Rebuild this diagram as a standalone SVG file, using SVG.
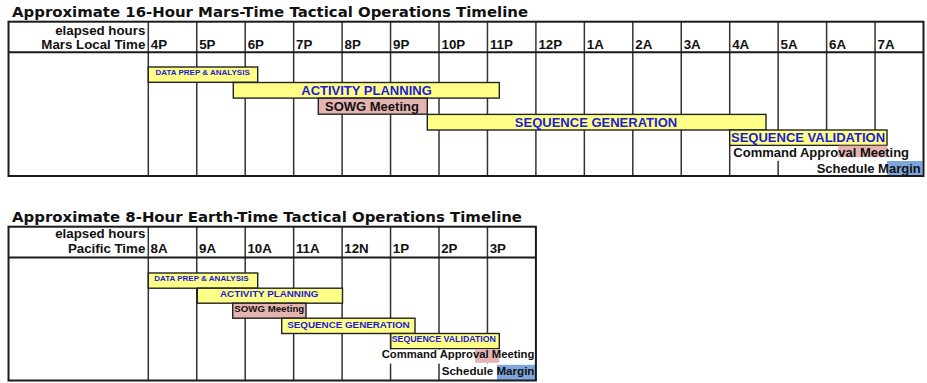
<svg xmlns="http://www.w3.org/2000/svg" width="927" height="383" viewBox="0 0 927 383">
<style>
.title{font-family:"DejaVu Sans",Verdana,sans-serif;font-weight:bold;font-size:14.5px;fill:#111}
.hdr{font-family:"Liberation Sans",Arial,sans-serif;font-weight:bold;font-size:13.3px;fill:#111}
.frame{fill:none;stroke:#1a1a1a;stroke-width:2}
.grid line{stroke:#333;stroke-width:1.5}
.bar{fill:#ffff88;stroke:#222;stroke-width:1.4}
.pink{fill:#e5b4b1;stroke:#222;stroke-width:1.4}
.pinkfill{fill:#e5b4b1}
.bluefill{fill:#7ea6dc}
.white{fill:#fff}
.bt{font-family:"Liberation Sans",Arial,sans-serif;font-weight:bold;fill:#1c1cd6}
.kt{font-family:"Liberation Sans",Arial,sans-serif;font-weight:bold;fill:#111}
</style>
<rect width="927" height="383" fill="#fff"/>

<!-- ===== TOP CHART ===== -->
<g id="mars-chart">
<text class="title" x="12" y="16.7" textLength="516" lengthAdjust="spacingAndGlyphs">Approximate 16-Hour Mars-Time Tactical Operations Timeline</text>
<g class="grid" id="mars-grid">
<line x1="148.3" y1="21.7" x2="148.3" y2="176"/>
<line x1="196.75" y1="21.7" x2="196.75" y2="176"/>
<line x1="245.2" y1="21.7" x2="245.2" y2="176"/>
<line x1="293.65" y1="21.7" x2="293.65" y2="176"/>
<line x1="342.1" y1="21.7" x2="342.1" y2="176"/>
<line x1="390.55" y1="21.7" x2="390.55" y2="176"/>
<line x1="439" y1="21.7" x2="439" y2="176"/>
<line x1="487.45" y1="21.7" x2="487.45" y2="176"/>
<line x1="535.9" y1="21.7" x2="535.9" y2="176"/>
<line x1="584.35" y1="21.7" x2="584.35" y2="176"/>
<line x1="632.8" y1="21.7" x2="632.8" y2="176"/>
<line x1="681.25" y1="21.7" x2="681.25" y2="176"/>
<line x1="729.7" y1="21.7" x2="729.7" y2="176"/>
<line x1="778.15" y1="21.7" x2="778.15" y2="176"/>
<line x1="826.6" y1="21.7" x2="826.6" y2="176"/>
<line x1="875.05" y1="21.7" x2="875.05" y2="176"/>
</g>
<g id="mars-header">
<text class="hdr" x="145.3" y="35" text-anchor="end">elapsed hours</text>
<text class="hdr" x="145.3" y="49.3" text-anchor="end">Mars Local Time</text>
<text class="hdr" x="150.8" y="49.3">4P</text>
<text class="hdr" x="199.2" y="49.3">5P</text>
<text class="hdr" x="247.7" y="49.3">6P</text>
<text class="hdr" x="296.1" y="49.3">7P</text>
<text class="hdr" x="344.6" y="49.3">8P</text>
<text class="hdr" x="393" y="49.3">9P</text>
<text class="hdr" x="441.5" y="49.3">10P</text>
<text class="hdr" x="489.9" y="49.3">11P</text>
<text class="hdr" x="538.4" y="49.3">12P</text>
<text class="hdr" x="586.8" y="49.3">1A</text>
<text class="hdr" x="635.3" y="49.3">2A</text>
<text class="hdr" x="683.7" y="49.3">3A</text>
<text class="hdr" x="732.2" y="49.3">4A</text>
<text class="hdr" x="780.6" y="49.3">5A</text>
<text class="hdr" x="829.1" y="49.3">6A</text>
<text class="hdr" x="877.5" y="49.3">7A</text>
</g>
<g id="mars-data-prep">
<rect class="bar" x="148.3" y="67" width="109.4" height="15.3"/>
<text class="bt" x="155.5" y="75" font-size="8">DATA PREP &amp; ANALYSIS</text>
</g>
<g id="mars-activity-planning">
<rect class="bar" x="233.3" y="82.5" width="266" height="15.6"/>
<text class="bt" x="366.5" y="94.5" font-size="13" text-anchor="middle">ACTIVITY PLANNING</text>
</g>
<g id="mars-sowg">
<rect class="pink" x="318.3" y="98.2" width="109" height="16"/>
<text class="kt" x="325" y="110.5" font-size="13">SOWG Meeting</text>
</g>
<g id="mars-seq-gen">
<rect class="bar" x="427.3" y="114.4" width="338.7" height="15.6"/>
<text class="bt" x="596" y="126.5" font-size="13" text-anchor="middle">SEQUENCE GENERATION</text>
</g>
<g id="mars-seq-val">
<rect class="bar" x="729.7" y="130" width="157.3" height="15.4"/>
<text class="bt" x="731" y="141.6" font-size="13">SEQUENCE VALIDATION</text>
</g>
<g id="mars-cam">
<rect class="white" x="732.5" y="146.2" width="180" height="14.6"/>
<rect class="pinkfill" x="838.3" y="145.7" width="48.7" height="11.5"/>
<text class="kt" x="733.3" y="156.5" font-size="13">Command Approval Meeting</text>
</g>
<g id="mars-margin">
<rect class="white" x="816" y="160.8" width="106.5" height="14.5"/>
<rect class="bluefill" x="887" y="161" width="35.5" height="14.2"/>
<text class="kt" x="816.7" y="173" font-size="13">Schedule Margin</text>
</g>
<line x1="8.5" y1="52.3" x2="923.5" y2="52.3" stroke="#1a1a1a" stroke-width="2"/>
<rect class="frame" x="8.5" y="21.7" width="915" height="154.3"/>
</g>

<!-- ===== BOTTOM CHART ===== -->
<g id="earth-chart">
<text class="title" x="12" y="222" textLength="510" lengthAdjust="spacingAndGlyphs">Approximate 8-Hour Earth-Time Tactical Operations Timeline</text>
<g class="grid" id="earth-grid">
<line x1="148.3" y1="226.7" x2="148.3" y2="380.5"/>
<line x1="196.75" y1="226.7" x2="196.75" y2="380.5"/>
<line x1="245.2" y1="226.7" x2="245.2" y2="380.5"/>
<line x1="293.65" y1="226.7" x2="293.65" y2="380.5"/>
<line x1="342.1" y1="226.7" x2="342.1" y2="380.5"/>
<line x1="390.55" y1="226.7" x2="390.55" y2="380.5"/>
<line x1="439" y1="226.7" x2="439" y2="380.5"/>
<line x1="487.45" y1="226.7" x2="487.45" y2="380.5"/>
</g>
<g id="earth-header">
<text class="hdr" x="145.3" y="238.3" text-anchor="end">elapsed hours</text>
<text class="hdr" x="145.3" y="253" text-anchor="end">Pacific Time</text>
<text class="hdr" x="150.5" y="253">8A</text>
<text class="hdr" x="199" y="253">9A</text>
<text class="hdr" x="247.4" y="253">10A</text>
<text class="hdr" x="295.9" y="253">11A</text>
<text class="hdr" x="344.3" y="253">12N</text>
<text class="hdr" x="392.8" y="253">1P</text>
<text class="hdr" x="441.2" y="253">2P</text>
<text class="hdr" x="489.7" y="253">3P</text>
</g>
<g id="earth-data-prep">
<rect class="bar" x="148.3" y="273" width="109.4" height="15.2"/>
<text class="bt" x="154.3" y="280.5" font-size="8">DATA PREP &amp; ANALYSIS</text>
</g>
<g id="earth-activity-planning">
<rect class="bar" x="197.3" y="288.2" width="145.2" height="15"/>
<text class="bt" x="269.2" y="297.3" font-size="9.8" text-anchor="middle">ACTIVITY PLANNING</text>
</g>
<g id="earth-sowg">
<rect class="pink" x="232.7" y="303.2" width="73.3" height="15"/>
<text class="kt" x="234.3" y="312.3" font-size="9.7">SOWG Meeting</text>
</g>
<g id="earth-seq-gen">
<rect class="bar" x="281.7" y="318.2" width="133.3" height="15.3"/>
<text class="bt" x="287.3" y="328" font-size="9.8">SEQUENCE GENERATION</text>
</g>
<g id="earth-seq-val">
<rect class="bar" x="390.8" y="333.5" width="108.5" height="15.2"/>
<text class="bt" x="391.7" y="341.6" font-size="8.8">SEQUENCE VALIDATION</text>
</g>
<g id="earth-cam">
<rect class="white" x="381" y="349.6" width="153.5" height="14"/>
<rect class="pinkfill" x="475" y="349.3" width="24.3" height="13.5"/>
<text class="kt" x="381.7" y="357.6" font-size="11.3">Command Approval Meeting</text>
</g>
<g id="earth-margin">
<rect class="white" x="441" y="364" width="94" height="15.8"/>
<rect class="bluefill" x="497" y="364.8" width="38.5" height="15.2"/>
<text class="kt" x="441.7" y="375" font-size="11.6">Schedule Margin</text>
</g>
<line x1="8.5" y1="257.5" x2="535.9" y2="257.5" stroke="#1a1a1a" stroke-width="2"/>
<rect class="frame" x="8.5" y="226.7" width="527.4" height="153.8"/>
</g>
</svg>
